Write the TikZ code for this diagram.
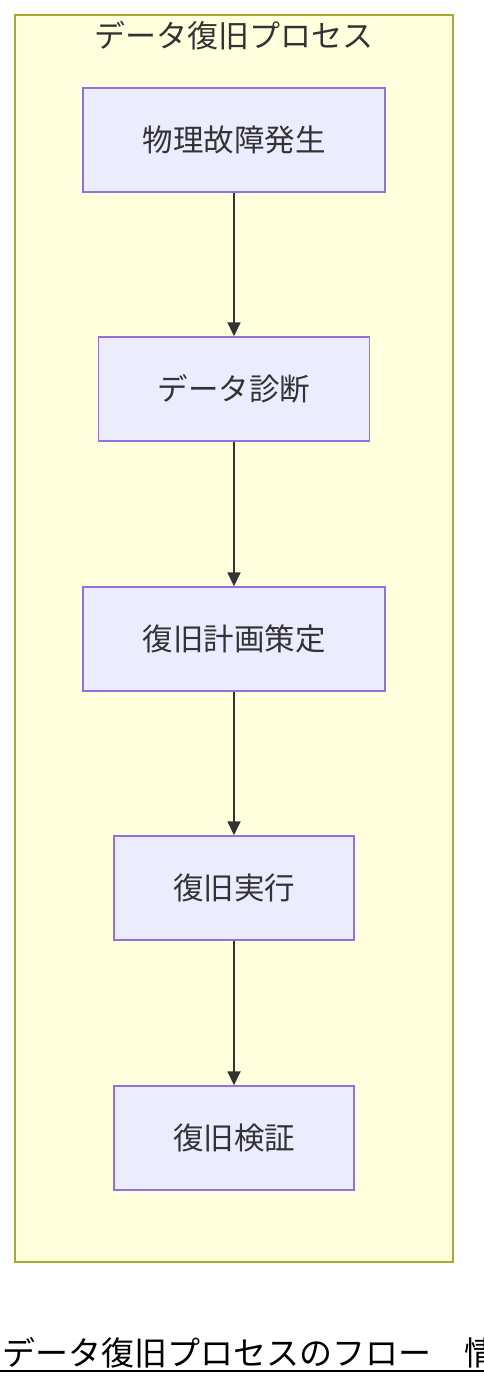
\documentclass[tikz,border=0pt]{standalone}
\usepackage{fontspec}
\setmainfont{Noto Sans CJK JP}
\usetikzlibrary{arrows.meta}
\definecolor{clusterfill}{HTML}{FFFFDE}
\definecolor{clusterline}{HTML}{AAAA33}
\definecolor{stepfill}{HTML}{ECECFF}
\definecolor{stepline}{HTML}{9370DB}
\definecolor{flowline}{HTML}{333333}
\tikzset{
	stepbox/.style={draw=stepline, fill=stepfill, line width=1.5pt, minimum height=104pt, inner sep=0pt, text=flowline, font=\fontsize{30.5}{36}\selectfont},
	flow/.style={draw=flowline, line width=1.8pt, -{Triangle[length=14pt, width=13pt]}}
}
\begin{document}
\begin{tikzpicture}[x=1pt, y=-1pt]
		%%%%% START %%%%%
		\useasboundingbox (0, 0) rectangle (484, 1386);
		\clip (0, 0) rectangle (484, 1386);
		
		\draw[fill=clusterfill, draw=clusterline, line width=1.5pt] (15, 15) rectangle (453, 1262);
		\node[text=flowline, font=\fontsize{31}{36}\selectfont] (title) at (234, 36) {データ復旧プロセス};
		
		\node[stepbox, minimum width=302pt] (fault) at (234, 140) {物理故障発生};
		\node[stepbox, minimum width=271pt] (diag) at (234, 389) {データ診断};
		\node[stepbox, minimum width=302pt] (plan) at (234, 639) {復旧計画策定};
		\node[stepbox, minimum width=240pt] (exec) at (234, 888) {復旧実行};
		\node[stepbox, minimum width=240pt] (verify) at (234, 1138) {復旧検証};
		
		\draw[flow] (fault) -- (diag);
		\draw[flow] (diag) -- (plan);
		\draw[flow] (plan) -- (exec);
		\draw[flow] (exec) -- (verify);
		
		\node[anchor=base west, inner sep=0pt, font=\fontsize{33}{38}\selectfont] (caption) at (2, 1365) {データ復旧プロセスのフロー　情報};
		\coordinate (lineend) at (484, 1371);
		\draw[line width=2pt] (0, 1371) -- (lineend);
		
		%%%%% END %%%%%
	\end{tikzpicture}
\end{document}
